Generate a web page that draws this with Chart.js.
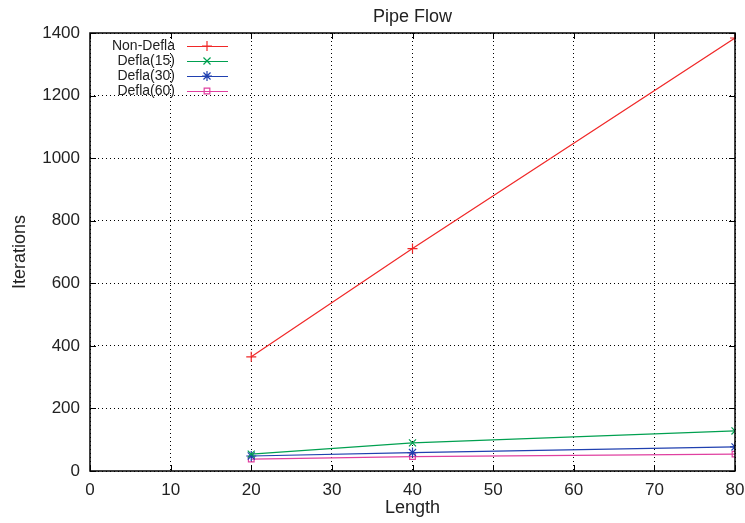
<!DOCTYPE html>
<html>
<head>
<meta charset="utf-8">
<script src="https://cdn.jsdelivr.net/npm/chart.js@4/dist/chart.umd.min.js"></script>
<style>
  html, body { margin: 0; padding: 0; background: #fff; }
</style>
</head>
<body>
<canvas id="myChart" width="745" height="523"></canvas>
<script>
// data
const lengths = [20, 40, 80];
const nonDefla = [365, 711, 1384];
const defla15 = [54, 90, 128];
const defla30 = [48, 59, 77];
const defla60 = [38, 46, 54];

const seriesNames = ["Non-Defla", "Defla(15)", "Defla(30)", "Defla(60)"];
const seriesColors = ["#f02828", "#00a050", "#2040b0", "#e040a0"];
const seriesMarkers = ["cross", "crossRot", "star", "rect"];
const seriesValues = [nonDefla, defla15, defla30, defla60];

const FONT = "'Liberation Sans', Arial, sans-serif";

const datasets = seriesValues.map((vals, i) => ({
  label: seriesNames[i],
  data: vals.map((v, j) => ({ x: lengths[j], y: v })),
  borderColor: seriesColors[i],
  backgroundColor: "transparent",
  borderWidth: 1.2,
  pointStyle: seriesMarkers[i],
  pointRadius: i == 3 ? 4 : 5,
  pointBorderColor: seriesColors[i],
  pointBackgroundColor: "transparent",
  pointBorderWidth: 1.2,
  tension: 0,
}));

// border box, inward ticks, title and the legend like gnuplot draws them
const gnuplotBits = {
  id: "gnuplotBits",
  afterDraw(chart) {
    const ctx = chart.ctx;
    const a = chart.chartArea;
    const xs = chart.scales.x, ys = chart.scales.y;
    ctx.save();
    ctx.strokeStyle = "#000";
    ctx.lineWidth = 1.5;
    ctx.strokeRect(a.left, a.top, a.right - a.left, a.bottom - a.top);
    ctx.lineWidth = 1;
    xs.ticks.forEach(t => {
      const px = Math.round(xs.getPixelForValue(t.value)) + 0.5;
      ctx.beginPath();
      ctx.moveTo(px, a.bottom); ctx.lineTo(px, a.bottom - 6);
      ctx.moveTo(px, a.top); ctx.lineTo(px, a.top + 6);
      ctx.stroke();
    });
    ys.ticks.forEach(t => {
      const py = Math.round(ys.getPixelForValue(t.value)) + 0.5;
      ctx.beginPath();
      ctx.moveTo(a.left, py); ctx.lineTo(a.left + 6, py);
      ctx.moveTo(a.right, py); ctx.lineTo(a.right - 6, py);
      ctx.stroke();
    });

    // title
    ctx.fillStyle = "#222";
    ctx.font = "18px " + FONT;
    ctx.textAlign = "center";
    ctx.textBaseline = "middle";
    ctx.fillText("Pipe Flow", (a.left + a.right) / 2, 17);

    // legend
    ctx.font = "14px " + FONT;
    ctx.textAlign = "right";
    chart.data.datasets.forEach((ds, i) => {
      const y = 46 + i * 15;
      ctx.fillStyle = "#222";
      ctx.fillText(ds.label, 175, y);
      ctx.strokeStyle = ds.borderColor;
      ctx.fillStyle = "rgba(0,0,0,0)";
      ctx.lineWidth = 1.2;
      ctx.beginPath();
      ctx.moveTo(187, y + 0.5); ctx.lineTo(228, y + 0.5);
      ctx.stroke();
      Chart.helpers.drawPoint(ctx, {
        pointStyle: ds.pointStyle, radius: ds.pointRadius, rotation: 0, borderWidth: 1.2
      }, 207, y);
    });
    ctx.restore();
  }
};

const ctx = document.getElementById("myChart");
new Chart(ctx, {
  type: "line",
  data: { datasets: datasets },
  plugins: [gnuplotBits],
  options: {
    responsive: false,
    animation: false,
    layout: { padding: { top: 33, right: 10, bottom: 0, left: 0 } },
    plugins: { legend: { display: false }, title: { display: false }, tooltip: { enabled: false } },
    scales: {
      x: {
        type: "linear",
        min: 0, max: 80,
        ticks: { stepSize: 10, color: "#222", font: { family: FONT, size: 17 }, padding: 9, maxRotation: 0 },
        grid: { color: "#000", lineWidth: 1, drawTicks: false },
        border: { display: false, dash: [1, 3] },
        title: { display: true, text: "Length", color: "#222", font: { family: FONT, size: 18 }, padding: { top: 0 } },
        afterFit: s => { s.height = 52; s.paddingLeft = 0; s.paddingRight = 0; },
      },
      y: {
        min: 0, max: 1400,
        ticks: { stepSize: 200, color: "#222", font: { family: FONT, size: 17 }, padding: 10,
                 callback: v => String(v) },
        grid: { color: "#000", lineWidth: 1, drawTicks: false },
        border: { display: false, dash: [1, 3] },
        title: { display: true, text: "Iterations", color: "#222", font: { family: FONT, size: 18 }, padding: { top: 9, bottom: 0 } },
        afterFit: s => { s.width = 90; s.paddingTop = 0; s.paddingBottom = 0; },
      },
    },
  },
});
</script>
</body>
</html>
